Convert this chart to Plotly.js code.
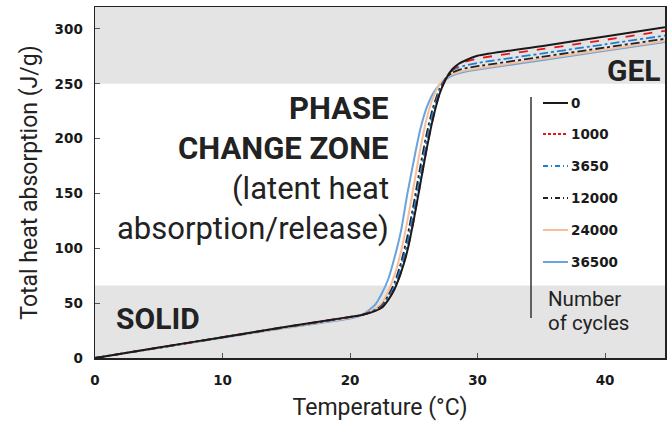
<!DOCTYPE html>
<html>
<head>
<meta charset="utf-8">
<script src="https://cdn.plot.ly/plotly-3.0.1.min.js"></script>
<style>html,body{margin:0;padding:0;background:#fff;}#chart{width:670px;height:425px;}</style>
</head>
<body>
<div id="chart"></div>
<script>
// Temperature (°C) sample points
var temp = [0, 5, 10, 15, 20, 21, 22, 22.5, 23, 23.5, 24, 24.5, 25, 25.5, 26, 26.5, 27, 27.5, 28, 28.5, 29, 30, 35, 40, 44.7];
// Total heat absorption (J/g) for each number of cycles
var cyc0     = [0, 9.5, 19, 28.5, 37.5, 39.5, 43, 46, 53, 63, 78, 98, 126, 158, 190, 218, 240, 254, 263, 268, 271, 275.5, 284.3, 293.1, 301.5];
var cyc1000  = [0, 9.5, 19, 28.5, 37.5, 39.5, 43, 46, 53, 63, 78, 98, 126, 158, 190, 218, 240, 254, 262, 267, 270, 273, 281.5, 290, 298.3];
var cyc3650  = [0, 9.4, 18.8, 28.2, 37.2, 39.5, 43.5, 47, 55, 66, 83, 105, 134, 166, 198, 224, 243, 255, 262, 265, 266.5, 269, 277.5, 286, 294];
var cyc12000 = [0, 9.4, 18.8, 28.2, 37.2, 39.5, 44, 48, 57, 69, 87, 111, 141, 174, 204, 228, 245, 255, 260, 262.5, 264, 266, 274.5, 283, 291];
var cyc24000 = [0, 9.3, 18.6, 27.8, 36.6, 39.5, 45, 50, 61, 76, 97, 125, 157, 190, 218, 237, 249, 255, 258.5, 260.5, 262, 264, 272.5, 281, 289];
var cyc36500 = [0, 9.3, 18.5, 27.5, 36, 39.5, 49, 59, 72, 92, 116, 150, 180, 208, 228, 241, 249, 254, 257.5, 259.5, 261, 263, 271.5, 280, 288];
var seriesNames = ['0', '1000', '3650', '12000', '24000', '36500'];
var seriesData = [cyc0, cyc1000, cyc3650, cyc12000, cyc24000, cyc36500];
var seriesColors = ['#1a1a1a', '#e8161c', '#1b7fd6', '#222222', '#f6bf9a', '#6aa3dd'];
var seriesDash = ['solid', 'dash', 'dashdot', 'dashdot', 'solid', 'solid'];
var seriesWidth = [2, 1.8, 1.8, 1.8, 2, 2];
var xTicks = [0, 10, 20, 30, 40];
var yTicks = [0, 50, 100, 150, 200, 250, 300];

var traces = [];
// draw in reverse so black is on top
for (var i = seriesData.length - 1; i >= 0; i--) {
  traces.push({
    x: temp, y: seriesData[i], type: 'scatter', mode: 'lines', name: seriesNames[i],
    line: {color: seriesColors[i], dash: seriesDash[i], width: seriesWidth[i], shape: 'spline', smoothing: 0.6},
    showlegend: false, hoverinfo: 'skip'
  });
}

var X0 = 95, X1 = 665, Y0 = 7, Y1 = 358;
function px(x) { return (x - X0) / (X1 - X0); }
function py(y) { return (Y1 - y) / (Y1 - Y0); }

var shapes = [
  {type: 'rect', xref: 'paper', yref: 'y', x0: 0, x1: 1, y0: 0, y1: 66, fillcolor: '#e4e4e4', line: {width: 0}, layer: 'below'},
  {type: 'rect', xref: 'paper', yref: 'y', x0: 0, x1: 1, y0: 250, y1: 320, fillcolor: '#e4e4e4', line: {width: 0}, layer: 'below'},
  {type: 'line', xref: 'paper', yref: 'paper', x0: px(531), x1: px(531), y0: py(97), y1: py(318), line: {color: '#333', width: 1.5}}
];
var legendRows = [103, 134, 166, 198, 230, 262];
var annotations = [];
for (var k = 0; k < seriesNames.length; k++) {
  shapes.push({type: 'line', xref: 'paper', yref: 'paper', x0: px(543), x1: px(568), y0: py(legendRows[k]), y1: py(legendRows[k]),
    line: {color: seriesColors[k], dash: seriesDash[k] === 'solid' ? 'solid' : (seriesDash[k] === 'dash' ? '3px,2px' : '5px,3px,1px,3px'), width: seriesWidth[k]}});
  annotations.push({xref: 'paper', yref: 'paper', x: px(569), y: py(legendRows[k]), xanchor: 'left', yanchor: 'middle',
    text: '<b>' + seriesNames[k] + '</b>', showarrow: false, font: {family: 'DejaVu Sans', size: 13.5, color: '#1a1a1a'}});
}
var big = {family: 'Roboto', size: 31, color: '#222'};
annotations.push(
  {xref: 'paper', yref: 'paper', x: px(546), y: py(299), xanchor: 'left', yanchor: 'middle', text: 'Number', showarrow: false, font: {family: 'Roboto', size: 20.5, color: '#222'}},
  {xref: 'paper', yref: 'paper', x: px(546), y: py(323), xanchor: 'left', yanchor: 'middle', text: 'of cycles', showarrow: false, font: {family: 'Roboto', size: 20.5, color: '#222'}},
  {xref: 'paper', yref: 'paper', x: px(391), y: py(109), xanchor: 'right', yanchor: 'middle', text: '<b>PHASE</b>', showarrow: false, font: big},
  {xref: 'paper', yref: 'paper', x: px(391), y: py(148), xanchor: 'right', yanchor: 'middle', text: '<b>CHANGE ZONE</b>', showarrow: false, font: big},
  {xref: 'paper', yref: 'paper', x: px(391), y: py(188), xanchor: 'right', yanchor: 'middle', text: '(latent heat', showarrow: false, font: big},
  {xref: 'paper', yref: 'paper', x: px(391), y: py(228), xanchor: 'right', yanchor: 'middle', text: 'absorption/release)', showarrow: false, font: big},
  {xref: 'paper', yref: 'paper', x: px(114), y: py(318), xanchor: 'left', yanchor: 'middle', text: '<b>SOLID</b>', showarrow: false, font: {family: 'Roboto', size: 30, color: '#222'}},
  {xref: 'paper', yref: 'paper', x: px(663), y: py(70), xanchor: 'right', yanchor: 'middle', text: '<b>GEL</b>', showarrow: false, font: {family: 'Roboto', size: 30, color: '#222'}}
);

var layout = {
  width: 670, height: 425,
  margin: {l: X0, r: 670 - X1, t: Y0, b: 425 - Y1},
  paper_bgcolor: '#fff', plot_bgcolor: '#fff',
  showlegend: false,
  xaxis: {
    range: [0, 44.7], tickvals: xTicks, ticktext: xTicks.map(String), ticks: 'inside', ticklen: 5, tickcolor: '#555',
    showgrid: false, zeroline: false, showline: true, linecolor: '#222', linewidth: 1.5, mirror: true,
    tickfont: {family: 'DejaVu Sans', size: 13.5, color: '#1a1a1a', weight: 'bold'}, ticklabelstandoff: 9,
    title: {text: 'Temperature (°C)', font: {family: 'Roboto', size: 23, color: '#222'}, standoff: 12}
  },
  yaxis: {
    range: [0, 320], tickvals: yTicks, ticktext: yTicks.map(String), ticks: 'inside', ticklen: 5, tickcolor: '#555',
    showgrid: false, zeroline: false, showline: true, linecolor: '#222', linewidth: 1.5, mirror: true,
    tickfont: {family: 'DejaVu Sans', size: 13.5, color: '#1a1a1a', weight: 'bold'}, ticklabelstandoff: 8,
    title: {text: 'Total heat absorption (J/g)', font: {family: 'Roboto', size: 23, color: '#222'}, standoff: 10}
  },
  shapes: shapes,
  annotations: annotations
};
Plotly.newPlot('chart', traces, layout, {displayModeBar: false, staticPlot: true});
</script>
</body>
</html>
